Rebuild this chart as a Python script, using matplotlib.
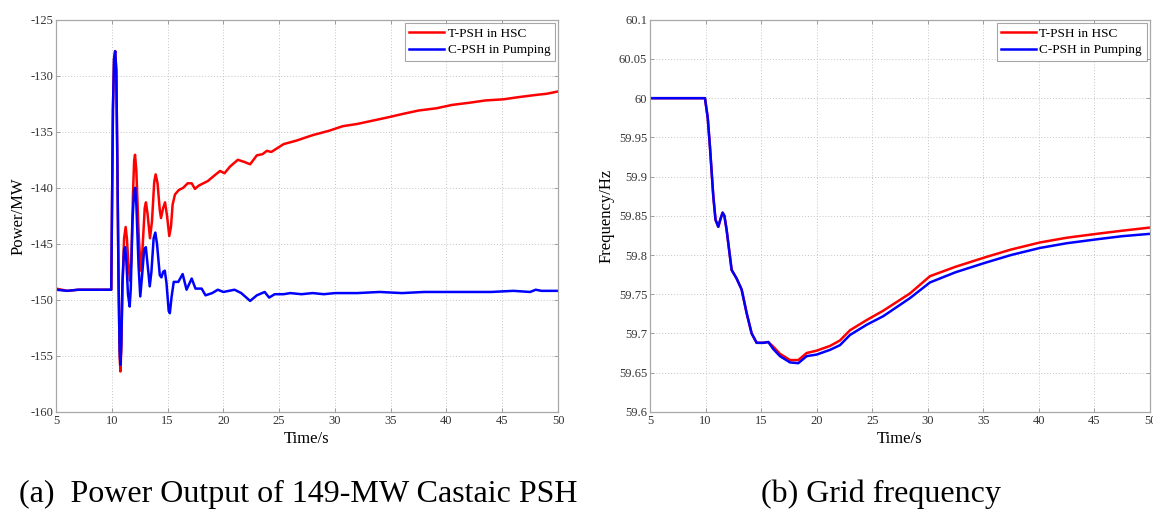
import numpy as np
import matplotlib
matplotlib.use("Agg")
import matplotlib.pyplot as plt
from matplotlib.ticker import FormatStrFormatter

plt.rcParams["font.family"] = ["Liberation Serif", "DejaVu Serif"]
plt.rcParams["axes.unicode_minus"] = False

# ---- (a) power output, MW ----
p_red_t = [5, 6, 7, 8, 9, 9.95, 10.1, 10.2, 10.3, 10.4, 10.5, 10.6, 10.7, 10.77, 10.85,
           10.95, 11.1, 11.24, 11.35, 11.5, 11.63, 11.75, 11.9, 12.0, 12.08, 12.2, 12.4,
           12.59, 12.75, 12.95, 13.06, 13.2, 13.42, 13.6, 13.8, 13.93, 14.1, 14.3, 14.41,
           14.6, 14.77, 14.95, 15.15, 15.3, 15.45, 15.66, 16.0, 16.4, 16.8, 17.16, 17.45,
           17.8, 18.2, 18.6, 19.2, 19.7, 20.1, 20.6, 21.3, 21.9, 22.4, 23.0, 23.5, 23.9,
           24.3, 25.4, 26.5, 28.0, 29.5, 30.7, 32.0, 33.4, 34.8, 36.1, 37.5, 39.1, 40.5,
           42.1, 43.5, 45.1, 46.5, 48.1, 49.0, 50]
p_red = [-149.0, -149.2, -149.1, -149.1, -149.1, -149.1, -133.0, -128.5, -127.8, -129.5,
         -138.0, -148.0, -155.0, -156.4, -154.5, -149.0, -144.5, -143.5, -144.5, -147.0,
         -148.3, -146.5, -140.5, -137.6, -137.05, -138.5, -144.0, -147.4, -145.5, -141.8,
         -141.3, -142.3, -144.5, -143.0, -139.5, -138.8, -139.6, -142.0, -142.7, -141.8,
         -141.3, -142.5, -144.3, -143.5, -141.5, -140.6, -140.2, -140.0, -139.6, -139.6,
         -140.1, -139.8, -139.6, -139.4, -138.9, -138.5, -138.7, -138.1, -137.5, -137.7,
         -137.9, -137.1, -137.0, -136.7, -136.8, -136.1, -135.8, -135.3, -134.9, -134.5,
         -134.3, -134.0, -133.7, -133.4, -133.1, -132.9, -132.6, -132.4, -132.2, -132.1,
         -131.9, -131.7, -131.6, -131.4]

p_blue_t = [5, 6, 7, 8, 9, 9.95, 10.1, 10.2, 10.3, 10.4, 10.5, 10.6, 10.7, 10.77, 10.85,
            10.95, 11.1, 11.2, 11.3, 11.45, 11.6, 11.7, 11.85, 12.0, 12.1, 12.2, 12.4,
            12.55, 12.7, 12.9, 13.05, 13.2, 13.4, 13.55, 13.75, 13.9, 14.05, 14.3, 14.45,
            14.6, 14.75, 14.9, 15.1, 15.2, 15.35, 15.55, 15.96, 16.35, 16.7, 17.16, 17.5,
            18.05, 18.4, 19.0, 19.5, 20.0, 20.5, 21.0, 21.6, 22.4, 23.0, 23.7, 24.1, 24.6,
            25.4, 26.0, 27.0, 28.0, 29.0, 30.0, 32.0, 34.0, 36.0, 38.0, 40.0, 42.0, 44.0,
            46.0, 47.5, 48.0, 48.5, 50]
p_blue = [-149.1, -149.2, -149.1, -149.1, -149.1, -149.1, -133.0, -128.5, -127.8, -129.5,
          -138.0, -148.0, -154.5, -155.8, -154.0, -148.5, -145.5, -145.3, -146.5, -149.5,
          -150.6, -149.0, -143.0, -140.2, -140.0, -141.5, -147.0, -149.7, -148.0, -145.5,
          -145.3, -146.8, -148.8, -147.5, -144.5, -144.0, -145.0, -147.8, -148.0, -147.5,
          -147.4, -148.5, -151.0, -151.2, -149.8, -148.4, -148.4, -147.7, -149.1, -148.1,
          -149.0, -149.0, -149.6, -149.4, -149.1, -149.3, -149.2, -149.1, -149.4, -150.1,
          -149.6, -149.3, -149.8, -149.5, -149.5, -149.4, -149.5, -149.4, -149.5, -149.4,
          -149.4, -149.3, -149.4, -149.3, -149.3, -149.3, -149.3, -149.2, -149.3, -149.1,
          -149.2, -149.2]

# ---- (b) grid frequency, Hz ----
f_t = [5, 9.95, 10.2, 10.4, 10.7, 10.9, 11.15, 11.35, 11.54, 11.7, 11.9, 12.35, 12.8,
       13.25, 13.7, 14.15, 14.6, 15.2, 15.65, 16.1, 16.7, 17.6, 18.35, 19.1, 20.0, 21.2,
       22.1, 23.0, 24.5, 26.0, 28.4, 30.2, 32.5, 35.15, 37.5, 40.1, 42.5, 45.2, 47.5, 50]
f_blue = [60.0, 60.0, 59.975, 59.938, 59.875, 59.845, 59.836, 59.846, 59.854, 59.850,
          59.832, 59.781, 59.770, 59.756, 59.726, 59.700, 59.688, 59.688, 59.689, 59.680,
          59.671, 59.663, 59.662, 59.671, 59.673, 59.679, 59.685, 59.698, 59.711, 59.722,
          59.745, 59.765, 59.778, 59.790, 59.800, 59.809, 59.815, 59.820, 59.824, 59.827]
f_red = [60.0, 60.0, 59.975, 59.938, 59.875, 59.845, 59.836, 59.846, 59.854, 59.850,
         59.832, 59.781, 59.770, 59.756, 59.726, 59.700, 59.688, 59.688, 59.689, 59.683,
         59.674, 59.666, 59.666, 59.675, 59.678, 59.684, 59.691, 59.704, 59.717, 59.729,
         59.751, 59.773, 59.785, 59.797, 59.807, 59.816, 59.822, 59.827, 59.831, 59.835]

labels = ["T-PSH in HSC", "C-PSH in Pumping"]
x_ticks = np.arange(5, 51, 5)


def style(ax):
    for s in ax.spines.values():
        s.set_color("#a8a8a8")
        s.set_linewidth(0.9)
    ax.grid(True, ls=(0, (1, 2)), color="#c4c4c4", lw=0.7)
    ax.tick_params(direction="in", length=3, width=0.6, color="#909090",
                   labelsize=9, labelcolor="#333333", top=True, right=True, pad=2)
    ax.set_xlim(5, 50)
    ax.set_xticks(x_ticks)
    ax.set_xlabel("Time/s", fontsize=12, labelpad=3)
    leg = ax.legend(loc="upper right", fontsize=9.5, frameon=True, fancybox=False,
                    borderpad=0.35, handlelength=2.6, handletextpad=0.3,
                    labelspacing=0.3, borderaxespad=0.25)
    leg.get_frame().set_edgecolor("#909090")
    leg.get_frame().set_linewidth(0.8)


fig = plt.figure(figsize=(11.53, 5.18), dpi=100)

ax1 = fig.add_axes([0.0486, 0.205, 0.4354, 0.7568])
ax1.plot(p_red_t, p_red, color="red", lw=1.8, label=labels[0])
ax1.plot(p_blue_t, p_blue, color="blue", lw=1.8, label=labels[1])
ax1.set_ylim(-160, -125)
ax1.set_yticks(np.arange(-160, -124, 5))
ax1.set_ylabel("Power/MW", fontsize=12, labelpad=3)
style(ax1)

ax2 = fig.add_axes([0.5637, 0.205, 0.4337, 0.7568])
ax2.plot(f_t, f_red, color="red", lw=1.8, label=labels[0])
ax2.plot(f_t, f_blue, color="blue", lw=1.8, label=labels[1])
ax2.set_ylim(59.6, 60.1)
ax2.set_yticks(np.arange(59.6, 60.1001, 0.05))
ax2.yaxis.set_major_formatter(FormatStrFormatter("%g"))
ax2.set_ylabel("Frequency/Hz", fontsize=12, labelpad=3)
style(ax2)

fig.text(0.0165, 0.046, "(a)  Power Output of 149-MW Castaic PSH", fontsize=23,
         ha="left", va="center")
fig.text(0.66, 0.046, "(b) Grid frequency", fontsize=23, ha="left", va="center")

fig.savefig("out.png", dpi=100)
